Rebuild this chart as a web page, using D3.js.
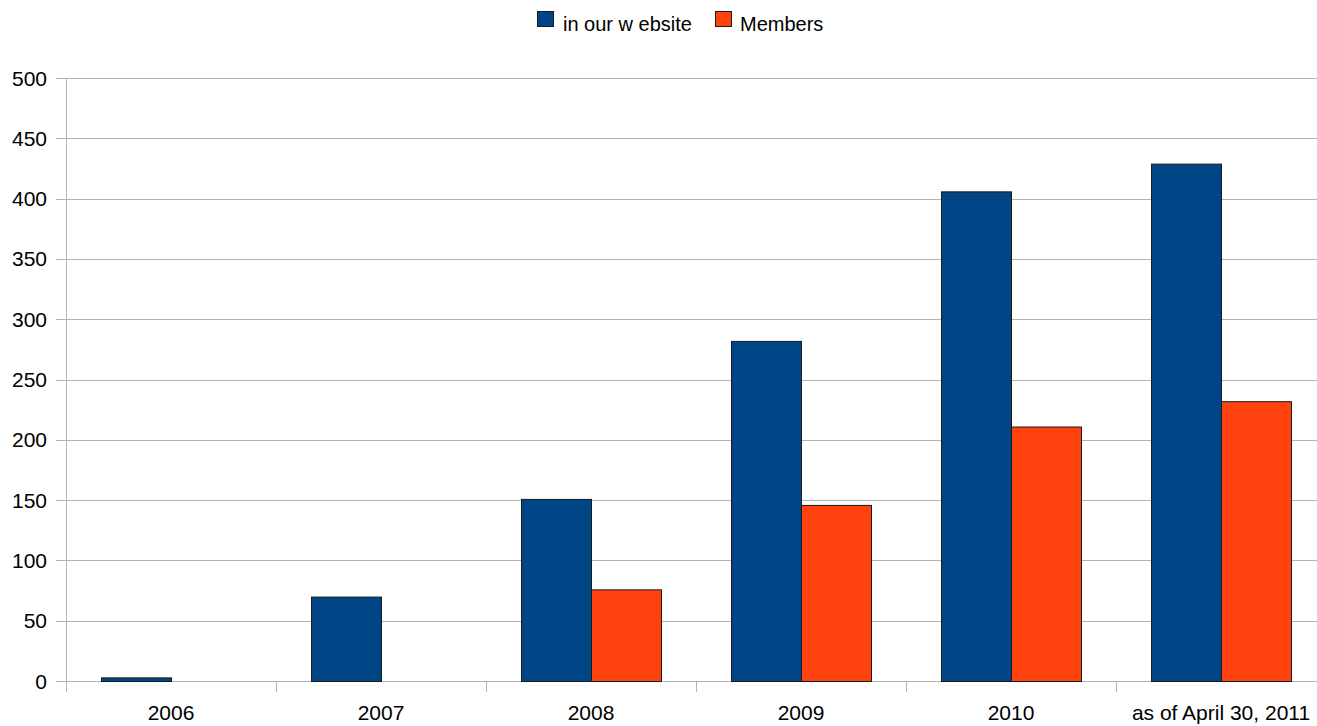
<!DOCTYPE html>
<html>
<head>
<meta charset="utf-8">
<script src="https://cdn.jsdelivr.net/npm/d3@7"></script>
<style>
  body { margin: 0; background: #fff; }
  text { font-family: "Liberation Sans", Arial, sans-serif; fill: #000; }
</style>
</head>
<body>
<div class="svg"></div>
<script>
const categories = ["2006", "2007", "2008", "2009", "2010", "as of April 30, 2011"];
const seriesNames = ["in our w ebsite", "Members"];
const website = [3, 70, 151, 282, 406, 429];
const members = [0, 0, 76, 146, 211, 232];
const yTicks = [0, 50, 100, 150, 200, 250, 300, 350, 400, 450, 500];
const colors = ["#004586", "#ff420e"];

const width = 1317, height = 726;
const plotLeft = 66, plotTop = 78, plotBottom = 681;
const bandW = 210;

let svg = d3.select('.svg').append('svg').attr('width', width).attr('height', height);

let scaleX = d3.scaleBand()
    .domain(categories)
    .range([plotLeft, plotLeft + bandW * categories.length]);
let scaleY = d3.scaleLinear()
    .domain([0, 500])
    .range([plotBottom, plotTop]);
let inner = d3.scaleBand()
    .domain(seriesNames)
    .range([0, bandW])
    .paddingOuter(0.5);

// grid lines
svg.append('g').selectAll('line').data(yTicks).enter().append('line')
    .attr('x1', plotLeft - 10).attr('x2', width)
    .attr('y1', d => Math.round(scaleY(d)) + 0.5).attr('y2', d => Math.round(scaleY(d)) + 0.5)
    .attr('stroke', '#b3b3b3');

// y axis line
svg.append('line')
    .attr('x1', plotLeft + 0.5).attr('x2', plotLeft + 0.5)
    .attr('y1', plotTop).attr('y2', plotBottom + 11)
    .attr('stroke', '#b3b3b3');

// y labels
svg.append('g').selectAll('text').data(yTicks).enter().append('text')
    .attr('x', 47).attr('y', d => scaleY(d) + 7.5)
    .attr('text-anchor', 'end')
    .style('font-size', '21px')
    .text(d => d);

// category ticks
svg.append('g').selectAll('line').data(categories.slice(1)).enter().append('line')
    .attr('x1', d => scaleX(d) + 0.5).attr('x2', d => scaleX(d) + 0.5)
    .attr('y1', plotBottom).attr('y2', plotBottom + 11)
    .attr('stroke', '#b3b3b3');

// category labels
svg.append('g').selectAll('text').data(categories).enter().append('text')
    .attr('x', d => scaleX(d) + bandW / 2)
    .attr('y', 720)
    .attr('text-anchor', 'middle')
    .style('font-size', '21px')
    .text(d => d);

// bars
const series = [website, members];
series.forEach((vals, s) => {
  svg.append('g').selectAll('rect').data(vals).enter().append('rect')
    .attr('x', (d, i) => scaleX(categories[i]) + inner(seriesNames[s]) + 0.5)
    .attr('y', d => scaleY(d) + 0.5)
    .attr('width', inner.bandwidth())
    .attr('height', d => Math.max(0, scaleY(0) - scaleY(d)))
    .attr('fill', colors[s])
    .attr('stroke', d => d > 0 ? '#1a1a1a' : 'none')
    .attr('stroke-width', 1);
});

// legend
const legendPos = [[537, 563], [715, 740]];
seriesNames.forEach((n, s) => {
  svg.append('rect')
    .attr('x', legendPos[s][0] + 0.5).attr('y', 11.5)
    .attr('width', 16).attr('height', 15)
    .attr('fill', colors[s]).attr('stroke', '#1a1a1a');
  svg.append('text')
    .attr('x', legendPos[s][1]).attr('y', 31)
    .style('font-size', '20px')
    .text(n);
});
</script>
</body>
</html>
